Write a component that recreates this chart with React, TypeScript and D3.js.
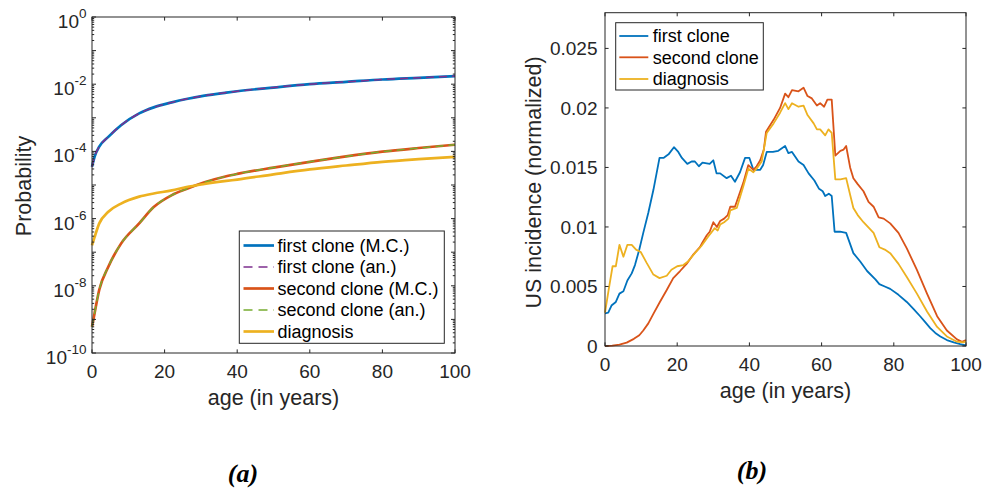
import React from 'react';
import * as d3 from 'd3';

// ---------- Panel (a): cumulative probabilities (log scale) ----------
const probAges = [0, 0.7, 2, 4.5, 8, 13, 17, 22, 26, 31, 37, 40, 50, 60, 70, 80, 90, 100];
const firstCloneMC = [3.5e-5, 6.9e-5, 1.38e-4, 2.7e-4, 6.0e-4, 1.35e-3, 2.04e-3, 2.88e-3, 3.63e-3, 4.57e-3, 5.62e-3, 6.17e-3, 7.94e-3, 1.0e-2, 1.17e-2, 1.38e-2, 1.55e-2, 1.74e-2];
const firstCloneAn = firstCloneMC;
const secondCloneMC = [6.0e-10, 1.5e-9, 7.6e-9, 3.7e-8, 1.8e-7, 7.2e-7, 2.2e-6, 5.0e-6, 7.6e-6, 1.2e-5, 1.82e-5, 2.14e-5, 3.3e-5, 4.9e-5, 7.1e-5, 9.8e-5, 1.26e-4, 1.58e-4];
const secondCloneAn = secondCloneMC;
const diagnosisProb = [1.6e-7, 2.8e-7, 7.2e-7, 1.6e-6, 2.8e-6, 4.5e-6, 5.6e-6, 6.9e-6, 8.7e-6, 1.07e-5, 1.32e-5, 1.45e-5, 2.07e-5, 2.9e-5, 3.8e-5, 4.9e-5, 5.9e-5, 6.9e-5];
const probTickExps = [0, -2, -4, -6, -8, -10];
const ageTicks = [0, 20, 40, 60, 80, 100];
const legendA = ['first clone (M.C.)', 'first clone (an.)', 'second clone (M.C.)', 'second clone (an.)', 'diagnosis'];

// ---------- Panel (b): normalized US incidence ----------
const firstCloneInc: [number, number][] = [[0,0.00275],[0.9,0.0028],[1.8,0.0034],[3,0.0037],[4,0.0044],[5.1,0.0046],[6.2,0.0055],[7.4,0.0061],[8.3,0.0068],[9.5,0.0081],[10.6,0.0095],[12,0.0112],[13.4,0.0131],[15.1,0.0158],[16.2,0.0158],[17.6,0.0161],[19.1,0.0167],[20.3,0.0163],[21.3,0.0158],[22.8,0.0153],[24,0.0155],[24.9,0.0155],[26,0.0151],[27,0.0154],[29,0.0153],[30,0.0156],[30.9,0.0145],[31.9,0.0145],[33.7,0.0141],[34.9,0.0143],[36,0.0138],[37.4,0.0146],[38.8,0.0158],[40,0.0158],[41.1,0.0148],[43,0.0148],[43.8,0.0152],[44.8,0.0163],[46.5,0.0163],[48,0.0164],[49.9,0.0168],[50.8,0.0162],[51.8,0.0163],[53.6,0.0155],[55,0.0152],[56.4,0.0145],[58,0.0139],[59.3,0.0132],[60.3,0.0130],[61,0.0126],[62,0.0128],[62.8,0.0126],[63.6,0.0096],[65.1,0.0096],[66.8,0.0095],[68.8,0.0078],[70.7,0.0071],[72.6,0.0063],[74.9,0.0056],[76,0.0052],[77.5,0.0050],[79,0.0048],[81.3,0.0043],[83.6,0.0037],[85.5,0.0031],[87.3,0.0025],[88.7,0.0020],[90.1,0.0015],[91.5,0.0011],[92.9,0.0008],[94.7,0.0005],[96.6,0.0003],[98.4,0.00015],[100,0.00005]];
const secondCloneInc: [number, number][] = [[0,0],[2,0.00003],[4,0.00012],[6,0.00028],[8,0.0006],[9.5,0.0009],[10.6,0.0013],[12,0.0019],[13.4,0.0027],[15.2,0.0037],[17.1,0.0047],[18.9,0.0057],[20.8,0.0063],[22.6,0.0069],[24.5,0.0077],[26.3,0.0083],[27,0.0087],[28.2,0.0093],[29,0.0096],[30,0.0104],[31,0.0100],[31.9,0.0105],[33,0.0107],[34,0.0110],[34.7,0.0117],[36,0.0117],[38.3,0.0137],[39.7,0.0152],[41.1,0.0148],[42,0.0151],[43,0.0156],[44,0.0165],[44.6,0.0180],[46.7,0.0190],[48.5,0.0200],[49.9,0.0212],[50.8,0.0209],[51.8,0.0215],[53.6,0.0214],[55,0.0217],[56.1,0.0210],[57.3,0.0208],[58.7,0.0202],[59.6,0.0204],[60.7,0.0201],[61.6,0.0207],[62.8,0.0207],[63.8,0.0160],[65.2,0.0164],[66.1,0.0165],[66.8,0.0168],[67.9,0.0150],[68.8,0.0141],[70,0.0136],[71.6,0.0130],[73,0.0121],[74.4,0.0117],[75.8,0.0108],[77.2,0.0107],[79,0.0103],[81.3,0.0095],[83.6,0.0082],[86.4,0.0064],[89.2,0.0044],[92,0.0025],[94.7,0.0013],[97.5,0.00056],[98.9,0.00036],[100,0.0005]];
const diagnosisInc: [number, number][] = [[0,0.0028],[1,0.0047],[2.1,0.0067],[3,0.0067],[4,0.0085],[5.1,0.0075],[6.2,0.0085],[7.4,0.0085],[8.6,0.0081],[9.9,0.0079],[11.5,0.0070],[13.4,0.0060],[15.1,0.0057],[17.1,0.0059],[18.4,0.0064],[20,0.0067],[21.7,0.0068],[23,0.0071],[24.9,0.0078],[26.7,0.0084],[28.6,0.0092],[30.4,0.0099],[31.2,0.0097],[31.9,0.0102],[33,0.0104],[34.2,0.0107],[34.7,0.0114],[36.5,0.0116],[38.3,0.0134],[39.7,0.0149],[41.1,0.0146],[42,0.0149],[43.4,0.0155],[44.8,0.0179],[46.7,0.0187],[48.5,0.0196],[49.9,0.0204],[50.8,0.0199],[51.8,0.0204],[53.6,0.0201],[55,0.0202],[56.1,0.0194],[57.8,0.0187],[58.7,0.0182],[59.6,0.0182],[61,0.0177],[61.9,0.0182],[62.8,0.0179],[63.8,0.0140],[65.2,0.0140],[66.8,0.0141],[67.9,0.0127],[68.8,0.0116],[70,0.0110],[71.6,0.0104],[74.4,0.0095],[76,0.0083],[77.5,0.0081],[79,0.0078],[81.3,0.0069],[83.6,0.0058],[86.4,0.0044],[89.2,0.0029],[92,0.0016],[94.7,0.0008],[97.5,0.00036],[99.3,0.0003],[100,0.0004]];
const incTicks = [0, 0.005, 0.01, 0.015, 0.02, 0.025];
const incTickLabels = ['0', '0.005', '0.01', '0.015', '0.02', '0.025'];
const legendB = ['first clone', 'second clone', 'diagnosis'];

const BLUE = '#0072BD';
const RED = '#D95319';
const YELLOW = '#EDB120';
const PURPLE = '#7E2F8E';
const GREEN = '#77AC30';
const AX = '#262626';
const SANS = '"Liberation Sans", Arial, Helvetica, sans-serif';

export default function App() {
  // Panel (a) scales
  const xa = d3.scaleLinear().domain([0, 100]).range([92, 455]);
  const ya = d3.scaleLog().domain([1e-10, 1]).range([353, 17]);
  const lineA = (vals: number[]) =>
    d3.line<number>().x((_, i) => xa(probAges[i])).y((v) => ya(v)).curve(d3.curveMonotoneX)(vals) || '';

  // Panel (b) scales
  const xb = d3.scaleLinear().domain([0, 100]).range([605, 966]);
  const yb = d3.scaleLinear().domain([0, 0.028]).range([346, 12.7]);
  const lineB = d3.line<[number, number]>().x((d) => xb(d[0])).y((d) => yb(d[1]));

  // log minor ticks
  const minorA: number[] = [];
  for (let e = -10; e < 0; e++) for (let m = 2; m <= 9; m++) minorA.push(m * Math.pow(10, e));
  const majorA: number[] = [];
  for (let e = -10; e <= 0; e++) majorA.push(Math.pow(10, e));

  const [ax0, ax1] = xa.range();
  const [ay0, ay1] = [ya(1e-10), ya(1)];
  const [bx0, bx1] = xb.range();
  const [by0, by1] = [yb(0), yb(0.028)];

  const legAColors = [BLUE, PURPLE, RED, GREEN, YELLOW];
  const legADash = [false, true, false, true, false];
  const legAY = [245.5, 267, 288.5, 310, 331.5];
  const legBColors = [BLUE, RED, YELLOW];
  const legBY = [36, 57.3, 79];

  return (
    <svg width={987} height={491} style={{ position: 'absolute', left: 0, top: 0, background: '#fff' }} fontFamily={SANS}>
      <rect x={0} y={0} width={987} height={491} fill="#fff" />

      {/* ===== Panel (a) ===== */}
      <g fill="none" strokeLinejoin="round">
        <path d={lineA(firstCloneMC)} stroke={BLUE} strokeWidth={2.7} />
        <path d={lineA(firstCloneAn)} stroke={PURPLE} strokeWidth={1.5} strokeDasharray="8,5" />
        <path d={lineA(secondCloneMC)} stroke={RED} strokeWidth={2.7} />
        <path d={lineA(secondCloneAn)} stroke={GREEN} strokeWidth={1.5} strokeDasharray="8,5" />
        <path d={lineA(diagnosisProb)} stroke={YELLOW} strokeWidth={2.7} />
      </g>
      <g stroke={AX} strokeWidth={1} fill="none">
        <rect x={ax0} y={ay1} width={ax1 - ax0} height={ay0 - ay1} />
        {ageTicks.map((t) => (
          <g key={'xa' + t}>
            <line x1={xa(t)} x2={xa(t)} y1={ay0} y2={ay0 - 3.6} />
            <line x1={xa(t)} x2={xa(t)} y1={ay1} y2={ay1 + 3.6} />
          </g>
        ))}
        {majorA.map((v, i) => (
          <g key={'ma' + i}>
            <line x1={ax0} x2={ax0 + 4} y1={ya(v)} y2={ya(v)} />
            <line x1={ax1} x2={ax1 - 4} y1={ya(v)} y2={ya(v)} />
          </g>
        ))}
        {minorA.map((v, i) => (
          <g key={'mi' + i}>
            <line x1={ax0} x2={ax0 + 2.2} y1={ya(v)} y2={ya(v)} />
            <line x1={ax1} x2={ax1 - 2.2} y1={ya(v)} y2={ya(v)} />
          </g>
        ))}
      </g>
      <g fill={AX} fontSize={19}>
        {ageTicks.map((t) => (
          <text key={'xla' + t} x={xa(t)} y={378} textAnchor="middle">{t}</text>
        ))}
        {probTickExps.map((e) => (
          <text key={'yla' + e} x={86.5} y={ya(Math.pow(10, e)) + 11} textAnchor="end">
            <tspan>10</tspan>
            <tspan dy={-10} fontSize={13.5}>{String(e)}</tspan>
          </text>
        ))}
      </g>
      <text x={273.5} y={405} textAnchor="middle" fontSize={21.5} fill={AX}>age (in years)</text>
      <text transform="translate(30.5,186) rotate(-90)" textAnchor="middle" fontSize={21.5} fill={AX}>Probability</text>
      {/* legend a */}
      <rect x={239.3} y={231} width={205} height={112.3} fill="#fff" stroke={AX} strokeWidth={1} />
      {legendA.map((lab, i) => (
        <g key={'lga' + i}>
          <line x1={243.5} x2={274} y1={legAY[i]} y2={legAY[i]} stroke={legAColors[i]}
            strokeWidth={legADash[i] ? 1.5 : 2.7} strokeDasharray={legADash[i] ? '9,6' : undefined} />
          <text x={277.5} y={legAY[i] + 6.3} fontSize={18} fill="#000">{lab}</text>
        </g>
      ))}

      {/* ===== Panel (b) ===== */}
      <g fill="none" strokeLinejoin="round">
        <path d={lineB(firstCloneInc) || ''} stroke={BLUE} strokeWidth={1.8} />
        <path d={lineB(secondCloneInc) || ''} stroke={RED} strokeWidth={1.8} />
        <path d={lineB(diagnosisInc) || ''} stroke={YELLOW} strokeWidth={1.8} />
      </g>
      <g stroke={AX} strokeWidth={1} fill="none">
        <rect x={bx0} y={by1} width={bx1 - bx0} height={by0 - by1} />
        {ageTicks.map((t) => (
          <g key={'xb' + t}>
            <line x1={xb(t)} x2={xb(t)} y1={by0} y2={by0 - 3.6} />
            <line x1={xb(t)} x2={xb(t)} y1={by1} y2={by1 + 3.6} />
          </g>
        ))}
        {incTicks.map((t) => (
          <g key={'yb' + t}>
            <line x1={bx0} x2={bx0 + 3.6} y1={yb(t)} y2={yb(t)} />
            <line x1={bx1} x2={bx1 - 3.6} y1={yb(t)} y2={yb(t)} />
          </g>
        ))}
      </g>
      <g fill={AX} fontSize={19}>
        {ageTicks.map((t) => (
          <text key={'xlb' + t} x={xb(t)} y={371} textAnchor="middle">{t}</text>
        ))}
        {incTicks.map((t, i) => (
          <text key={'ylb' + t} x={597.5} y={yb(t) + 6.8} textAnchor="end">{incTickLabels[i]}</text>
        ))}
      </g>
      <text x={785.5} y={398} textAnchor="middle" fontSize={21.5} fill={AX}>age (in years)</text>
      <text transform="translate(540.5,182.5) rotate(-90)" textAnchor="middle" fontSize={21.5} fill={AX}>US incidence (normalized)</text>
      {/* legend b */}
      <rect x={615.7} y={22.7} width={147.6} height={67.3} fill="#fff" stroke={AX} strokeWidth={1} />
      {legendB.map((lab, i) => (
        <g key={'lgb' + i}>
          <line x1={619.3} x2={648.3} y1={legBY[i]} y2={legBY[i]} stroke={legBColors[i]} strokeWidth={1.8} />
          <text x={652.7} y={legBY[i] + 6.3} fontSize={18} fill="#000">{lab}</text>
        </g>
      ))}

      {/* captions */}
      <text x={243} y={482} textAnchor="middle" fontSize={26} fontFamily='"Liberation Serif", "DejaVu Serif", serif'
        fontWeight="bold" fontStyle="italic" fill="#000">(a)</text>
      <text x={752} y={478.5} textAnchor="middle" fontSize={26} fontFamily='"Liberation Serif", "DejaVu Serif", serif'
        fontWeight="bold" fontStyle="italic" fill="#000">(b)</text>
    </svg>
  );
}
